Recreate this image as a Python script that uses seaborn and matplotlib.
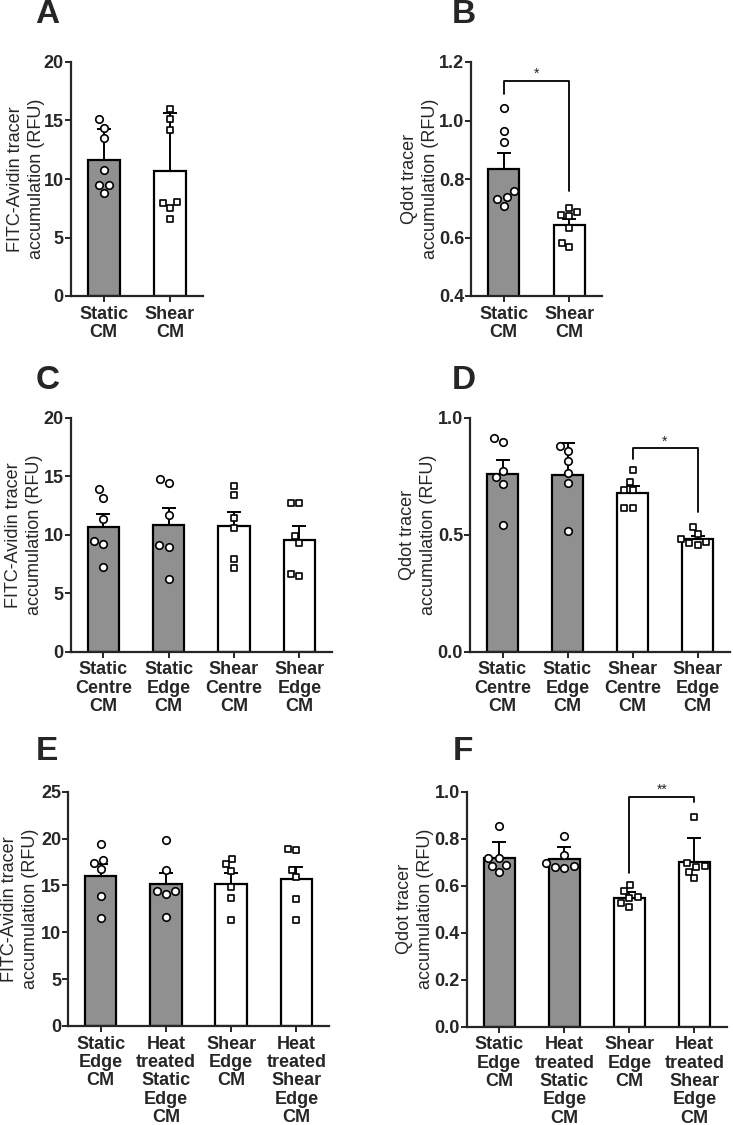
import numpy as np
import pandas as pd
import matplotlib
matplotlib.use("Agg")
import matplotlib.pyplot as plt
import seaborn as sns

sns.set_style("ticks")
plt.rcParams['font.family'] = ['Liberation Sans', 'DejaVu Sans']

fitc_label = "FITC-Avidin tracer\naccumulation (RFU)"
qdot_label = "Qdot tracer\naccumulation (RFU)"

# Panel A
A_labels = ["Static\nCM", "Shear\nCM"]
A_means = [11.65, 10.7]
A_err = [2.65, 4.94]
A_pts = [[14.4, 15.1, 13.5, 10.8, 9.5, 9.5, 8.8],
         [16.0, 15.1, 14.2, 8.0, 7.95, 7.55, 6.6]]

# Panel B
B_labels = ["Static\nCM", "Shear\nCM"]
B_means = [0.835, 0.642]
B_err = [0.055, 0.022]
B_pts = [[1.044, 0.964, 0.926, 0.759, 0.730, 0.738, 0.708],
         [0.678, 0.672, 0.686, 0.701, 0.634, 0.582, 0.567]]

# Panel C
C_labels = ["Static\nCentre\nCM", "Static\nEdge\nCM", "Shear\nCentre\nCM", "Shear\nEdge\nCM"]
C_means = [10.63, 10.83, 10.74, 9.54]
C_err = [1.14, 1.42, 1.17, 1.2]
C_pts = [[13.16, 13.87, 11.31, 9.43, 9.2, 7.26],
         [14.44, 14.79, 11.68, 9.12, 8.92, 6.21],
         [14.2, 13.4, 11.42, 10.6, 7.9, 7.15],
         [12.68, 12.68, 9.89, 9.26, 6.61, 6.47]]

# Panel D
D_labels = C_labels
D_means = [0.761, 0.755, 0.68, 0.48]
D_err = [0.058, 0.135, 0.029, 0.016]
D_pts = [[0.897, 0.912, 0.774, 0.745, 0.717, 0.54],
         [0.858, 0.88, 0.815, 0.765, 0.722, 0.517],
         [0.776, 0.725, 0.691, 0.691, 0.614, 0.614],
         [0.534, 0.503, 0.48, 0.467, 0.463, 0.456]]

# Panel E
E_labels = ["Static\nEdge\nCM", "Heat\ntreated\nStatic\nEdge\nCM", "Shear\nEdge\nCM",
            "Heat\ntreated\nShear\nEdge\nCM"]
E_means = [16.0, 15.11, 15.11, 15.72]
E_err = [1.28, 1.18, 1.18, 1.28]
E_pts = [[19.38, 17.71, 17.43, 16.75, 13.87, 11.49],
         [19.84, 16.64, 14.44, 14.44, 14.08, 11.66],
         [17.85, 17.25, 16.54, 14.86, 13.69, 11.31],
         [18.78, 18.92, 16.6, 15.86, 13.58, 11.31]]

# Panel F
F_labels = E_labels
F_means = [0.716, 0.712, 0.546, 0.702]
F_err = [0.071, 0.054, 0.028, 0.099]
F_pts = [[0.854, 0.72, 0.72, 0.688, 0.684, 0.66],
         [0.811, 0.73, 0.695, 0.685, 0.681, 0.677],
         [0.603, 0.577, 0.549, 0.553, 0.525, 0.511],
         [0.894, 0.695, 0.684, 0.678, 0.66, 0.634]]

# significance brackets: (left group, right group, top, left leg end, right leg end, text)
B_sig = (0, 1, 1.136, 1.092, 0.759, "*")
D_sig = (2, 3, 0.869, 0.822, 0.598, "*")
F_sig = (2, 3, 0.979, 0.652, 0.957, "**")

W, H = 733, 1125
fig = plt.figure(figsize=(W / 100, H / 100), dpi=100)


def make_ax(left, right, top, bottom):
    return fig.add_axes([left / W, 1 - bottom / H, (right - left) / W, (bottom - top) / H])


def draw_panel(ax, labels, means, errs, pts, ylim, yticks, fmt, ylabel, label_x):
    n = len(labels)
    colors = ["#909090" if "Static" in lab else "white" for lab in labels]
    sns.barplot(x=labels, y=means, hue=labels, palette=colors, order=labels, hue_order=labels,
                legend=False, width=0.48, edgecolor="black", linewidth=1.6, ax=ax, zorder=1)
    ax.errorbar(range(n), means, yerr=[[0] * n, errs], fmt="none", ecolor="black",
                elinewidth=1.4, capsize=5, capthick=1.4, zorder=2)
    rows = []
    for lab, vals in zip(labels, pts):
        for v in vals:
            rows.append({"group": lab, "value": v, "static": "Static" in lab})
    df = pd.DataFrame(rows)
    sns.swarmplot(data=df[df["static"]], x="group", y="value", order=labels, marker="o",
                  size=5.4, color="white", edgecolor="black", linewidth=1.2, ax=ax, zorder=3)
    sns.swarmplot(data=df[~df["static"]], x="group", y="value", order=labels, marker="s",
                  size=4.8, color="white", edgecolor="black", linewidth=1.2, ax=ax, zorder=3)
    ax.set_xlim(-0.5, n - 0.5)
    ax.set_ylim(*ylim)
    ax.set_yticks(yticks)
    ax.set_yticklabels([fmt.format(t) for t in yticks])
    ax.set_xlabel("")
    ax.set_ylabel(ylabel, fontsize=13, linespacing=1.3, va="center")
    ax.yaxis.set_label_coords(label_x, 0.5)
    for s in ["top", "right"]:
        ax.spines[s].set_visible(False)
    for s in ["left", "bottom"]:
        ax.spines[s].set_linewidth(1.6)
    ax.tick_params(axis="both", width=1.4, length=4, labelsize=13, pad=1)
    ax.tick_params(axis="x", pad=3)
    for t in ax.get_xticklabels() + ax.get_yticklabels():
        t.set_fontweight("bold")
    for t in ax.get_xticklabels():
        t.set_linespacing(1.1)


def draw_sig(ax, sig):
    x0, x1, top, y0, y1, txt = sig
    ax.plot([x0, x0, x1, x1], [y0, top, top, y1], color="black", lw=1.3, zorder=4,
            clip_on=False)
    ax.text((x0 + x1) / 2, top, txt, ha="center", va="bottom", fontsize=10)


axA = make_ax(70.7, 203, 62, 296)
draw_panel(axA, A_labels, A_means, A_err, A_pts, (0, 20), [0, 5, 10, 15, 20], "{:.0f}",
           fitc_label, (26 - 70.7) / (203 - 70.7))

axB = make_ax(471, 602, 62, 296)
draw_panel(axB, B_labels, B_means, B_err, B_pts, (0.4, 1.2), [0.4, 0.6, 0.8, 1.0, 1.2], "{:.1f}",
           qdot_label, (420 - 471) / (602 - 471))
draw_sig(axB, B_sig)

axC = make_ax(70.7, 332, 417.7, 651.7)
draw_panel(axC, C_labels, C_means, C_err, C_pts, (0, 20), [0, 5, 10, 15, 20], "{:.0f}",
           fitc_label, (24 - 70.7) / (332 - 70.7))

axD = make_ax(470, 730, 417.7, 651.7)
draw_panel(axD, D_labels, D_means, D_err, D_pts, (0, 1.0), [0.0, 0.5, 1.0], "{:.1f}",
           qdot_label, (418 - 470) / (730 - 470))
draw_sig(axD, D_sig)

axE = make_ax(68, 329, 791.7, 1026)
draw_panel(axE, E_labels, E_means, E_err, E_pts, (0, 25), [0, 5, 10, 15, 20, 25], "{:.0f}",
           fitc_label, (20 - 68) / (329 - 68))

axF = make_ax(466.7, 727, 791.7, 1026.7)
draw_panel(axF, F_labels, F_means, F_err, F_pts, (0, 1.0), [0.0, 0.2, 0.4, 0.6, 0.8, 1.0], "{:.1f}",
           qdot_label, (415 - 466.7) / (727 - 466.7))
draw_sig(axF, F_sig)

# panel letters
for letter, x, y in [("A", 35, 23), ("B", 452, 23), ("C", 36, 389), ("D", 452, 389),
                     ("E", 36, 760), ("F", 453, 760)]:
    fig.text(x / W, 1 - y / H, letter, fontsize=24, fontweight="bold", ha="left", va="baseline")

fig.savefig("out.png", dpi=100)
